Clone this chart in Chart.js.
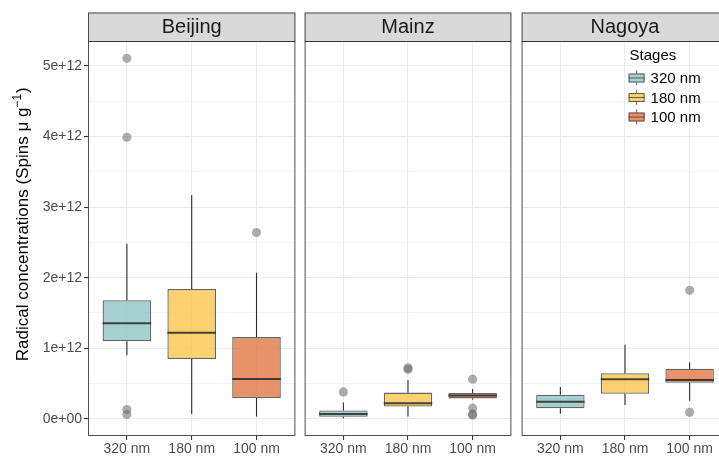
<!DOCTYPE html>
<html>
<head>
<meta charset="utf-8">
<script src="https://cdn.jsdelivr.net/npm/chart.js@4.4.1/dist/chart.umd.min.js"></script>
<style>
  html, body { margin: 0; padding: 0; background: #ffffff; width: 719px; height: 456px; overflow: hidden; position: relative; }
  canvas { position: absolute; top: 0; }
</style>
</head>
<body>
<canvas id="pBeijing" width="300" height="456" style="left:0px"></canvas>
<canvas id="pMainz" width="216" height="456" style="left:300px"></canvas>
<canvas id="pNagoya" width="216" height="456" style="left:517px"></canvas>
<script>
// ---- data (radical concentrations in units of 1e12 spins per µg) ----
const stages = ['320 nm', '180 nm', '100 nm'];
const stageFill = ['rgba(144,196,195,0.8)', 'rgba(252,196,76,0.8)', 'rgba(226,119,69,0.8)'];
const yTickValues = [0, 1, 2, 3, 4, 5];
const yTickLabels = ['0e+00', '1e+12', '2e+12', '3e+12', '4e+12', '5e+12'];
// y title: text, superscript exponent, closing part
const yTitleParts = ['Radical concentrations (Spins \u03bc g', '\u22121', ')'];
const legendTitle = 'Stages';

// box statistics per stage: [lower whisker, Q1, median, Q3, upper whisker]
const beijingStats = [[0.90, 1.10, 1.355, 1.68, 2.48], [0.066, 0.845, 1.22, 1.84, 3.17], [0.033, 0.293, 0.562, 1.157, 2.07]];
const mainzStats   = [[0.005, 0.028, 0.066, 0.118, 0.23], [0.03, 0.174, 0.22, 0.37, 0.55], [0.27, 0.288, 0.33, 0.364, 0.42]];
const nagoyaStats  = [[0.07, 0.15, 0.24, 0.34, 0.45], [0.195, 0.354, 0.56, 0.645, 1.05], [0.255, 0.51, 0.55, 0.71, 0.80]];

// outlying samples per stage
const beijingOutliers = [[5.11, 3.99, 0.13, 0.06], [], [2.64]];
const mainzOutliers   = [[0.38], [0.72, 0.70], [0.56, 0.15, 0.066, 0.05]];
const nagoyaOutliers  = [[], [], [1.82, 0.09]];

const yMin = -0.245, yMax = 5.355;
const FONT = '"Liberation Sans", Arial, Helvetica, sans-serif';

Chart.defaults.font.family = FONT;
Chart.defaults.animation = false;

const isMajor = v => yTickValues.indexOf(v) >= 0;
const STRIP_H = 28.5;

// strip, panel border, medians, y title and (optionally) the legend
const facetPlugin = {
  id: 'facet',
  beforeDraw(chart) {
    const { ctx, chartArea: a } = chart;
    ctx.save();
    ctx.fillStyle = '#ffffff';
    ctx.fillRect(a.left, a.top, a.right - a.left, a.bottom - a.top);
    ctx.restore();
  },
  afterDatasetsDraw(chart) {
    const { ctx, scales } = chart;
    const stats = chart.options.plugins.facet.stats;
    const boxMeta = chart.getDatasetMeta(1);
    ctx.save();
    ctx.strokeStyle = 'rgba(40,40,40,0.85)';
    ctx.lineWidth = 2;
    stats.forEach((s, i) => {
      const bar = boxMeta.data[i];
      const x = scales.x.getPixelForValue(i + 1);
      const half = bar.width / 2;
      const y = scales.y.getPixelForValue(s[2]);
      ctx.beginPath();
      ctx.moveTo(x - half, y);
      ctx.lineTo(x + half, y);
      ctx.stroke();
    });
    ctx.restore();
  },
  afterDraw(chart) {
    const { ctx, chartArea: a } = chart;
    const o = chart.options.plugins.facet;
    ctx.save();
    // strip
    ctx.fillStyle = '#d9d9d9';
    ctx.fillRect(a.left, a.top - STRIP_H, a.right - a.left, STRIP_H);
    ctx.strokeStyle = 'rgba(51,51,51,0.85)';
    ctx.lineWidth = 1;
    ctx.strokeRect(a.left + 0.5, a.top - STRIP_H + 0.5, a.right - a.left - 1, STRIP_H);
    ctx.fillStyle = '#1a1a1a';
    ctx.font = '20px ' + FONT;
    ctx.textAlign = 'center';
    ctx.textBaseline = 'middle';
    ctx.fillText(o.title, (a.left + a.right) / 2, a.top - STRIP_H / 2 + 1);
    // panel border
    ctx.strokeRect(a.left + 0.5, a.top + 0.5, a.right - a.left - 1, a.bottom - a.top - 1);

    if (o.yTitle) {
      const cy = (a.top - STRIP_H + a.bottom) / 2;
      ctx.save();
      ctx.translate(22, cy);
      ctx.rotate(-Math.PI / 2);
      ctx.textAlign = 'left';
      ctx.textBaseline = 'alphabetic';
      ctx.fillStyle = '#000000';
      const big = '17px ' + FONT, small = '12px ' + FONT;
      ctx.font = big;
      const w0 = ctx.measureText(yTitleParts[0]).width;
      const w2 = ctx.measureText(yTitleParts[2]).width;
      ctx.font = small;
      const w1 = ctx.measureText(yTitleParts[1]).width;
      let x = -(w0 + w1 + w2 + 1) / 2;
      ctx.font = big;
      ctx.fillText(yTitleParts[0], x, 6);
      x += w0;
      ctx.font = small;
      ctx.fillText(yTitleParts[1], x, -1);
      x += w1 + 1;
      ctx.font = big;
      ctx.fillText(yTitleParts[2], x, 6);
      ctx.restore();
    }

    if (o.legend) {
      const lx = a.left + 107;
      ctx.textAlign = 'left';
      ctx.textBaseline = 'middle';
      ctx.fillStyle = '#000000';
      ctx.font = '15px ' + FONT;
      ctx.fillText(legendTitle, lx + 1, a.top + 15);
      stages.forEach((st, i) => {
        const cy = a.top + 37 + i * 19.5;
        const kx = lx, kw = 16, kh = 9;
        ctx.fillStyle = '#ffffff';
        ctx.fillRect(kx, cy - kh / 2, kw, kh);
        ctx.fillStyle = stageFill[i];
        ctx.fillRect(kx, cy - kh / 2, kw, kh);
        ctx.strokeStyle = 'rgba(51,51,51,0.75)';
        ctx.lineWidth = 1;
        ctx.strokeRect(kx + 0.5, cy - kh / 2 + 0.5, kw - 1, kh - 1);
        ctx.beginPath();
        ctx.moveTo(kx + kw / 2, cy - kh / 2 - 3);
        ctx.lineTo(kx + kw / 2, cy - kh / 2);
        ctx.moveTo(kx + kw / 2, cy + kh / 2);
        ctx.lineTo(kx + kw / 2, cy + kh / 2 + 3);
        ctx.moveTo(kx, cy);
        ctx.lineTo(kx + kw, cy);
        ctx.stroke();
        ctx.fillStyle = '#000000';
        ctx.fillText(st, kx + 22, cy + 1);
      });
    }
    ctx.restore();
  }
};

function makePanel(id, title, stats, outliers, withAxis, legend, padLeft) {
  const outlierPoints = [];
  outliers.forEach((list, i) => list.forEach(v => outlierPoints.push({ x: i + 1, y: v })));
  const whiskerStyle = {
    type: 'bar', grouped: false, maxBarThickness: 1.1,
    backgroundColor: 'rgba(45,45,45,1)', borderWidth: 0, order: 2
  };
  return new Chart(document.getElementById(id), {
    type: 'bar',
    data: {
      datasets: [
        {
          type: 'scatter', data: outlierPoints, order: 0,
          pointRadius: 4.6, pointBackgroundColor: 'rgba(105,105,105,0.55)', pointBorderWidth: 0
        },
        {
          type: 'bar', order: 1, grouped: false,
          data: stats.map((s, i) => ({ x: i + 1, y: [s[1], s[3]] })),
          backgroundColor: stageFill, borderColor: 'rgba(51,51,51,0.75)', borderWidth: 1.3,
          borderSkipped: false, barPercentage: 0.75, categoryPercentage: 1
        },
        Object.assign({ data: stats.map((s, i) => ({ x: i + 1, y: [s[3], s[4]] })) }, whiskerStyle),
        Object.assign({ data: stats.map((s, i) => ({ x: i + 1, y: [s[0], s[1]] })) }, whiskerStyle)
      ]
    },
    options: {
      responsive: false,
      layout: { padding: { left: padLeft, right: 3, top: 41, bottom: 0 } },
      plugins: {
        legend: { display: false },
        tooltip: { enabled: false },
        facet: { title, stats, legend, yTitle: withAxis }
      },
      scales: {
        x: {
          type: 'linear', min: 0.4, max: 3.6, offset: false,
          afterBuildTicks: sc => { sc.ticks = stages.map((_, i) => ({ value: i + 1 })); },
          afterFit: sc => { sc.height = 20; },
          border: { display: false },
          grid: { offset: false, color: '#ebebeb', lineWidth: 1.1, tickLength: 4, tickColor: '#333333', drawTicks: true },
          ticks: {
            autoSkip: false, maxRotation: 0, padding: 1, color: '#4d4d4d',
            font: { size: 14 },
            callback: v => stages[v - 1] || ''
          }
        },
        y: {
          type: 'linear', min: yMin, max: yMax,
          afterBuildTicks: sc => {
            const t = [];
            yTickValues.forEach(v => { t.push({ value: v }); if (v < yTickValues[yTickValues.length - 1]) t.push({ value: v + 0.5 }); });
            sc.ticks = t;
          },
          afterFit: sc => { sc.width = withAxis ? 88 : 0; },
          border: { display: false },
          grid: {
            color: '#ebebeb',
            lineWidth: c => (c.tick && isMajor(c.tick.value)) ? 1.1 : 0.6,
            drawTicks: withAxis, tickLength: 4,
            tickColor: c => (c.tick && isMajor(c.tick.value)) ? '#333333' : 'rgba(0,0,0,0)'
          },
          title: { display: false },
          ticks: {
            display: withAxis, autoSkip: false, padding: 2, color: '#4d4d4d',
            font: { size: 14 },
            callback: v => { const k = yTickValues.indexOf(v); return k >= 0 ? yTickLabels[k] : ''; }
          }
        }
      }
    },
    plugins: [facetPlugin]
  });
}

makePanel('pBeijing', 'Beijing', beijingStats, beijingOutliers, true, false, 0);
makePanel('pMainz', 'Mainz', mainzStats, mainzOutliers, false, false, 3);
makePanel('pNagoya', 'Nagoya', nagoyaStats, nagoyaOutliers, false, true, 3);
</script>
</body>
</html>
